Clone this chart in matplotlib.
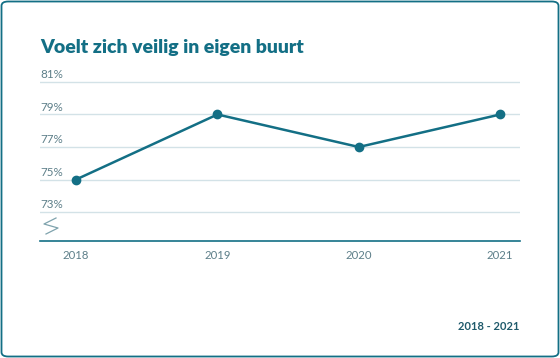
import matplotlib.pyplot as plt
from matplotlib.patches import FancyBboxPatch
from matplotlib.lines import Line2D

years = ["2018", "2019", "2020", "2021"]
values = [75, 79, 77, 79]
yticks = [73, 75, 77, 79, 81]

teal = "#136f85"
grid_c = "#d3e2e7"
label_c = "#5d7f89"
font = ["Lato", "DejaVu Sans"]

W, H = 560, 358
fig = plt.figure(figsize=(W / 100, H / 100), dpi=100)

# rounded frame
frame = FancyBboxPatch((1.5 / W, 1.5 / H), (W - 3) / W, (H - 3) / H,
                       boxstyle="round,pad=0,rounding_size=0.012",
                       transform=fig.transFigure, fill=False,
                       edgecolor=teal, linewidth=1.3)
fig.patches.append(frame)

fig.text(40 / W, 1 - 47 / H, "Voelt zich veilig in eigen buurt", family=font,
         fontweight="heavy", fontsize=14, color=teal, va="center", ha="left")

ax = fig.add_axes([40 / W, 1 - 241 / H, 480 / W, (241 - 80) / H])
x = list(range(len(years)))
ax.plot(x, values, color=teal, linewidth=1.8, marker="o", markersize=6,
        clip_on=False, zorder=3)
ax.set_xlim(-0.255, 3.14)
ax.set_ylim(71.22, 81.12)

for v in yticks:
    ax.axhline(v, color=grid_c, linewidth=1, zorder=1)
    ax.text(0, v + 0.12, f"{v}%", transform=ax.get_yaxis_transform(),
            family=font, fontsize=8.4, color=label_c, va="bottom", ha="left")

ax.set_yticks([])
ax.set_xticks(x)
ax.set_xticklabels(years, family=font, fontsize=8.2, color=label_c)
ax.tick_params(axis="x", length=0, pad=6.5)
for s in ["top", "right", "left"]:
    ax.spines[s].set_visible(False)
ax.spines["bottom"].set_color(teal)
ax.spines["bottom"].set_linewidth(1.2)
ax.patch.set_alpha(0)

# axis break mark
bx = [56, 44, 58, 46]
by = [218, 224, 228, 234]
fig.add_artist(Line2D([b / W for b in bx], [1 - b / H for b in by],
                      transform=fig.transFigure, color="#7fa3ad", linewidth=0.9))

fig.text(519 / W, 1 - 326 / H, "2018 - 2021", family=font, fontweight="bold",
         fontsize=8, color="#1f5a6b", ha="right", va="center")

fig.savefig("out.png", dpi=100)
